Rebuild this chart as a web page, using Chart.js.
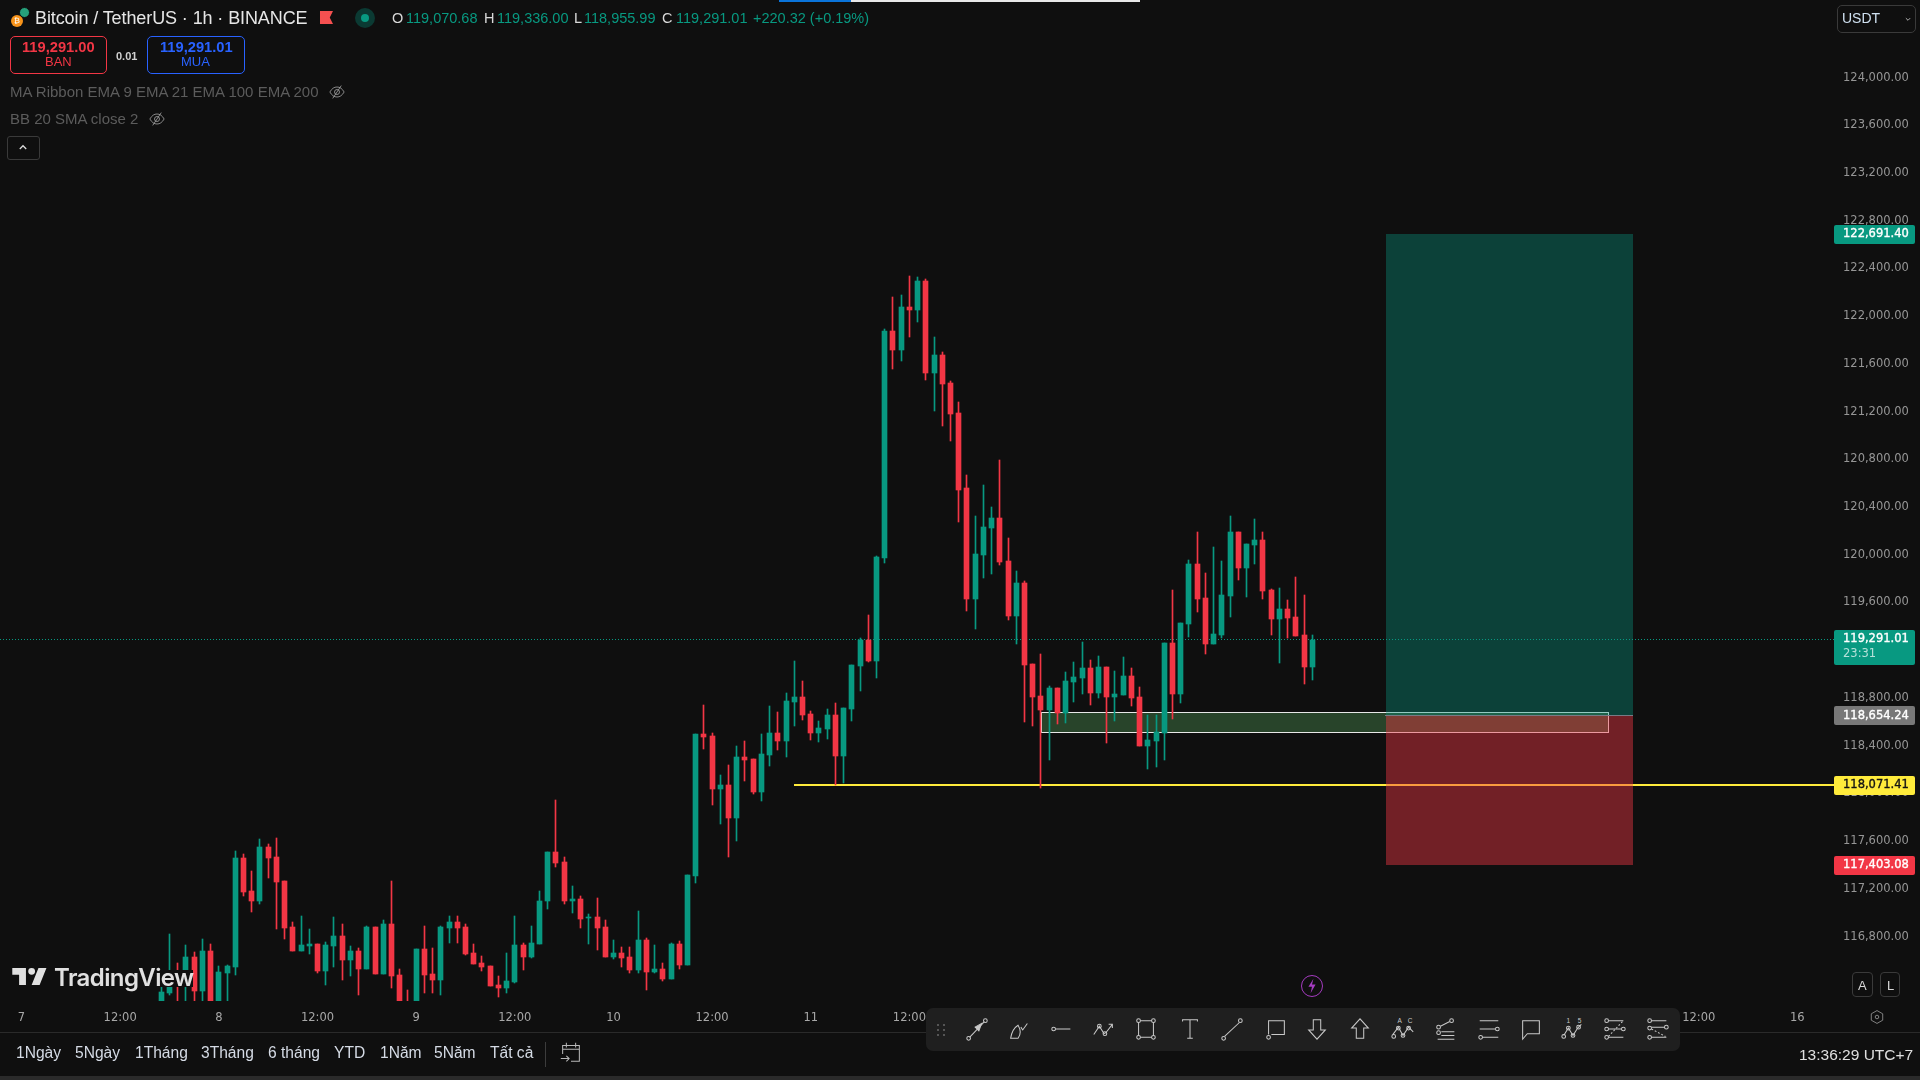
<!DOCTYPE html>
<html>
<head>
<meta charset="utf-8">
<title>BTCUSDT 1h</title>
<script src="https://cdn.jsdelivr.net/npm/chart.js@4/dist/chart.umd.min.js"></script>
<style>
    html, body { margin: 0; padding: 0; background: #0f0f0f; width: 1920px; height: 1080px; overflow: hidden; }
    #wrap { position: relative; width: 1920px; height: 1080px; font-family: "Liberation Sans", Arial, sans-serif; }
    #myChart { position: absolute; left: 0; top: 0; }
    .t { position: absolute; white-space: nowrap; transform: translateY(-50%); line-height: 1; }
    .b { position: absolute; box-sizing: border-box; }
    svg { position: absolute; overflow: visible; }
</style>
</head>
<body>
<div id="wrap"><canvas id="myChart" width="1920" height="1080"></canvas></div>
<script>
// hour 0 = day 7 00:00, first visible candle is hour 17
const firstHour = 17;
const opens = [116190,116329,116511,116500,116632,116346,116682,116220,116497,116548,
    117455,117178,117094,117548,117464,117262,116884,116682,116724,116741,
    116514,116724,116808,116607,116682,116531,116884,116489,116909,116481,
    116210,116070,116699,116489,116439,116876,116926,116884,116665,116581,
    116556,116397,116371,116422,116733,116632,116741,117094,117506,117422,
    117102,117111,116959,116968,116884,116632,116665,116632,116522,116775,
    116506,116531,116447,116741,116564,117304,118497,118480,118035,118069,
    117791,118304,118287,118010,118321,118506,118438,118766,118808,118665,
    118506,118539,118657,118312,118707,119069,119287,119111,119976,121875,
    121715,122077,122051,122295,121522,121673,121438,121186,120556,119631,
    120001,120228,120312,119951,119489,119767,119086,118817,118699,118884,
    118674,118935,118968,119052,118842,119061,118809,118825,118985,118809,
    118397,118439,118506,119262,118834,119422,119926,119641,119254,119330,
    119657,120187,119893,120086,120128,119708,119464,119548,119481,119330,119061];
const highs = [116380,116825,116581,116733,116671,116783,116741,116556,116565,117514,
    117489,117346,117615,117573,117623,117262,116918,116976,116867,116741,
    116758,116968,116909,116724,116707,116892,116884,116943,117262,116531,
    116355,116699,116892,116707,116892,116976,116976,116909,116741,116640,
    116556,116472,116665,116976,116749,116892,117178,117506,117943,117464,
    117228,117144,116993,117127,116943,116775,116716,116716,117018,116791,
    116732,116581,116749,116766,117312,118497,118741,118506,118153,118237,
    118396,118438,118287,118497,118732,118682,118842,119111,118942,118690,
    118606,118707,118758,118716,119077,119304,119497,119993,121892,122161,
    122177,122337,122329,122312,121825,121699,121455,121278,120665,120329,
    120581,120404,120791,120144,119867,119783,119086,119170,118901,118884,
    119019,119103,119271,119120,119153,119061,119027,119145,119052,118893,
    118657,118657,119262,119708,119430,119960,120187,119851,120069,119951,
    120321,120195,120094,120296,120187,119716,119725,119624,119817,119666,119330];
const lows = [116150,116310,116240,116240,116230,116230,116180,116190,116240,116481,
    117136,117002,117077,117287,116867,116783,116682,116682,116657,116497,
    116397,116548,116439,116472,116313,116531,116489,116489,116371,116180,
    116030,116040,116329,116329,116313,116749,116749,116649,116573,116514,
    116388,116296,116329,116413,116523,116623,116741,117035,117380,117077,
    117001,116875,116741,116690,116632,116615,116548,116497,116497,116355,
    116497,116430,116447,116531,116564,117245,118371,117901,117741,117464,
    117598,118102,117993,117934,118228,118363,118304,118564,118615,118447,
    118430,118455,118069,118085,118606,118858,119102,118968,119934,121556,
    121623,121825,121951,121463,121203,121077,120951,120278,119530,119379,
    119808,119841,119917,119455,119253,118599,118565,118044,118279,118582,
    118590,118767,118834,118741,118800,118422,118607,118825,118733,118397,
    118204,118220,118279,118624,118758,119313,119523,119170,119254,119304,
    119481,119792,119649,119926,119632,119330,119094,119304,119321,118918,118951];
const closes = [116338,116511,116472,116632,116346,116682,116220,116506,116556,117455,
    117170,117094,117548,117455,117254,116876,116682,116733,116741,116514,
    116733,116808,116607,116682,116531,116884,116489,116909,116472,116210,
    116060,116699,116481,116439,116884,116926,116876,116657,116573,116548,
    116388,116371,116430,116733,116632,116749,117102,117506,117413,117094,
    117111,116951,116968,116875,116632,116665,116623,116522,116775,116506,
    116531,116447,116741,116564,117312,118497,118472,118035,118069,117791,
    118304,118279,118010,118329,118506,118438,118774,118808,118657,118506,
    118548,118657,118312,118716,119077,119287,119111,119984,121875,121715,
    122077,122051,122295,121522,121673,121430,121178,120547,119631,120010,
    120236,120312,119942,119489,119766,119078,118809,118699,118884,118674,
    118943,118977,119052,118842,119061,118809,118834,118985,118800,118397,
    118447,118514,119262,118834,119430,119926,119632,119254,119338,119666,
    120187,119893,120094,120128,119699,119464,119548,119472,119321,119061,119288];

const yTickValues = [124000,123600,123200,122800,122400,122000,121600,121200,120800,120400,120000,
    119600,119200,118800,118400,118000,117600,117200,116800];
const xTickHours = [0,12,24,36,48,60,72,84,96,108,120,132,144,156,168,180,192,204,216];
const xTickLabels = ['7','12:00','8','12:00','9','12:00','10','12:00','11','12:00','12','12:00','13','12:00','14','12:00','15','12:00','16'];

const lastPrice = 119291.01;
const countdown = '23:31';
const targetPrice = 122691.40;
const entryPrice = 118654.24;
const stopPrice = 117403.08;
const hLinePrice = 118071.41;
const hLineStartHour = 94;
const zoneTop = 118686, zoneBottom = 118514, zoneStartHour = 124, zoneEndHour = 193;
const toolStartHour = 166, toolEndHour = 196;

const rangeNames = ['1Ngày','5Ngày','1Tháng','3Tháng','6 tháng','YTD','1Năm','5Năm','Tất cả'];
const rangeLefts = [16,75,135,201,268,334,380,434,490];

const GREEN = '#089981', RED = '#f23645', YELLOW = '#ffeb3b';
const AXIS_FONT = '11.5px "DejaVu Sans"';

function money(v) {
    return v.toLocaleString('en-US', {minimumFractionDigits: 2, maximumFractionDigits: 2});
}

// snap bars to whole pixels, the chart has hard edges
const snapBars = {
    id: 'snapBars',
    afterDatasetsUpdate(chart) {
        chart.data.datasets.forEach((ds, i) => {
            chart.getDatasetMeta(i).data.forEach(el => {
                el.x = Math.floor(el.x) + 0.5;
                el.y = Math.round(el.y);
                el.base = Math.round(el.base);
            });
        });
    }
};

// drawings under the candles: zone, line, long position, last price line
const drawings = {
    id: 'drawings',
    beforeDatasetsDraw(chart) {
        const ctx = chart.ctx, xs = chart.scales.x, ys = chart.scales.y;
        const right = chart.chartArea.right - 2;
        ctx.save();

        ctx.setLineDash([1, 2]);
        ctx.strokeStyle = GREEN;
        ctx.lineWidth = 1;
        let ly = Math.floor(ys.getPixelForValue(lastPrice)) + 0.5;
        ctx.beginPath(); ctx.moveTo(0, ly); ctx.lineTo(right, ly); ctx.stroke();
        ctx.setLineDash([]);

        let zx = Math.round(xs.getPixelForValue(zoneStartHour));
        let zr = Math.round(xs.getPixelForValue(zoneEndHour));
        let zt = Math.round(ys.getPixelForValue(zoneTop));
        let zb = Math.round(ys.getPixelForValue(zoneBottom));
        ctx.fillStyle = 'rgba(84,160,90,0.37)';
        ctx.fillRect(zx, zt, zr - zx, zb - zt);
        ctx.strokeStyle = '#e8e8e8';
        ctx.strokeRect(zx + 0.5, zt + 0.5, zr - zx, zb - zt);

        ctx.fillStyle = YELLOW;
        let hy = Math.round(ys.getPixelForValue(hLinePrice));
        let hx = Math.round(xs.getPixelForValue(hLineStartHour));
        ctx.fillRect(hx, hy - 1, right - hx, 2);

        let tx = Math.round(xs.getPixelForValue(toolStartHour));
        let tr = Math.round(xs.getPixelForValue(toolEndHour));
        let tt = Math.round(ys.getPixelForValue(targetPrice));
        let te = Math.round(ys.getPixelForValue(entryPrice));
        let ts = Math.round(ys.getPixelForValue(stopPrice));
        ctx.fillStyle = 'rgba(8,153,129,0.37)';
        ctx.fillRect(tx, tt, tr - tx, te - tt);
        ctx.fillStyle = 'rgba(242,54,69,0.44)';
        ctx.fillRect(tx, te, tr - tx, ts - te);
        ctx.fillStyle = '#787b86';
        ctx.fillRect(tx - 1, te, tr - tx + 1, 1);
        ctx.restore();
    },
    afterDraw(chart) {
        const ctx = chart.ctx, ys = chart.scales.y;
        const tag = (price, bg, fg) => {
            let y = ys.getPixelForValue(price);
            ctx.fillStyle = bg;
            ctx.beginPath();
            ctx.roundRect(1834, Math.round(y) - 9, 81, 19, 2);
            ctx.fill();
            ctx.fillStyle = fg;
            ctx.strokeStyle = fg;
            ctx.lineWidth = 0.35;
            ctx.fillText(money(price), 1843, y + 0.5);
            ctx.strokeText(money(price), 1843, y + 0.5);
        };
        ctx.save();
        ctx.font = AXIS_FONT;
        ctx.textBaseline = 'middle';
        ctx.textAlign = 'left';
        tag(targetPrice, GREEN, '#fff');
        tag(entryPrice, '#787878', '#fff');
        tag(hLinePrice, YELLOW, '#131313');
        tag(stopPrice, RED, '#fff');
        // last price has the countdown under it
        let y = Math.round(ys.getPixelForValue(lastPrice));
        ctx.fillStyle = GREEN;
        ctx.beginPath();
        ctx.roundRect(1834, y - 9, 81, 35, 2);
        ctx.fill();
        ctx.fillStyle = '#fff';
        ctx.strokeStyle = '#fff';
        ctx.lineWidth = 0.35;
        ctx.fillText(money(lastPrice), 1843, y);
        ctx.strokeText(money(lastPrice), 1843, y);
        ctx.fillStyle = 'rgba(255,255,255,0.7)';
        ctx.fillText(countdown, 1843, y + 15);
        ctx.restore();
    }
};

const hours = opens.map((v, i) => firstHour + i);
const candleColors = opens.map((v, i) => closes[i] >= v ? GREEN : RED);

new Chart(document.getElementById('myChart').getContext('2d'), {
    type: 'bar',
    data: {
        datasets: [
            {
                label: 'wick',
                data: hours.map((h, i) => ({x: h, y: [lows[i], highs[i]]})),
                backgroundColor: candleColors,
                barThickness: 1,
                grouped: false
            },
            {
                label: 'body',
                data: hours.map((h, i) => ({x: h, y: [opens[i], closes[i]]})),
                backgroundColor: candleColors,
                barThickness: 5,
                minBarLength: 1,
                grouped: false
            }
        ]
    },
    options: {
        responsive: false,
        animation: false,
        devicePixelRatio: 1,
        layout: {padding: {left: 0, right: 0, top: 0, bottom: 48}},
        plugins: {legend: {display: false}, tooltip: {enabled: false}, title: {display: false}},
        scales: {
            x: {
                type: 'linear',
                offset: false,
                min: -2.615,
                max: 220.7,
                grid: {display: false, drawTicks: false},
                border: {display: false},
                afterFit(scale) {
                    scale.height = 31;
                    scale.paddingLeft = 0;
                    scale.paddingRight = 0;
                },
                afterBuildTicks(scale) { scale.ticks = xTickHours.map(v => ({value: v})); },
                ticks: {
                    autoSkip: false,
                    maxRotation: 0,
                    padding: 10,
                    color: '#a8a8a8',
                    font: {family: 'DejaVu Sans', size: 11.5},
                    callback(value) { return xTickLabels[xTickHours.indexOf(value)]; }
                }
            },
            y: {
                position: 'right',
                min: 116260,
                max: 124650,
                grid: {display: false, drawTicks: false},
                border: {display: false},
                afterFit(scale) {
                    scale.width = 84;
                    scale.paddingTop = 0;
                    scale.paddingBottom = 0;
                },
                afterBuildTicks(scale) { scale.ticks = yTickValues.map(v => ({value: v})); },
                ticks: {
                    padding: 7,
                    color: '#969696',
                    font: {family: 'DejaVu Sans', size: 11.5},
                    callback(value) { return money(value); }
                }
            }
        }
    },
    plugins: [snapBars, drawings]
});

// ---- page chrome around the chart ----
const wrap = document.getElementById('wrap');

function text(str, x, y, size, color, extra) {
    let el = document.createElement('div');
    el.className = 't';
    el.textContent = str;
    el.style.cssText = 'left:' + x + 'px;top:' + y + 'px;font-size:' + size + 'px;color:' + color + ';' + (extra || '');
    wrap.appendChild(el);
    return el;
}
function box(x, y, w, h, css) {
    let el = document.createElement('div');
    el.className = 'b';
    el.style.cssText = 'left:' + x + 'px;top:' + y + 'px;width:' + w + 'px;height:' + h + 'px;' + css;
    wrap.appendChild(el);
    return el;
}
function icon(cx, cy, inner, size, stroke) {
    let s = size || 28;
    let holder = document.createElement('div');
    holder.innerHTML = '<svg width="' + s + '" height="' + s + '" viewBox="0 0 28 28" fill="none" stroke="' + (stroke || '#c9c9c9') +
        '" stroke-width="1.1" style="left:' + (cx - s / 2) + 'px;top:' + (cy - s / 2) + 'px">' + inner + '</svg>';
    wrap.appendChild(holder.firstChild);
}

box(779, 0, 72, 2, 'background:#0a74da');
box(851, 0, 289, 2, 'background:#e8e8e8');

// header
box(11, 15, 12, 12, 'background:#f7931a;border-radius:50%');
box(19, 7, 11, 11, 'background:#26a17b;border-radius:50%;border:1px solid #0f0f0f');
text('₿', 14, 21, 8, '#fff');
text('Bitcoin / TetherUS · 1h · BINANCE', 35, 18, 18, '#e6e6e6', 'letter-spacing:-0.1px');
box(320, 11, 13, 13, 'background:#f55050;clip-path:polygon(0 0,100% 0,75% 50%,100% 100%,0 100%)');
box(355, 8, 20, 20, 'background:#0b3a33;border-radius:50%');
box(361, 14, 8, 8, 'background:#089981;border-radius:50%');

text('O', 392, 18, 14.5, '#d8d8d8');
text('119,070.68', 406, 18, 14.5, GREEN);
text('H', 484, 18, 14.5, '#d8d8d8');
text('119,336.00', 497, 18, 14.5, GREEN);
text('L', 574, 18, 14.5, '#d8d8d8');
text('118,955.99', 584, 18, 14.5, GREEN);
text('C', 662, 18, 14.5, '#d8d8d8');
text('119,291.01', 676, 18, 14.5, GREEN);
text('+220.32 (+0.19%)', 753, 18, 14.5, GREEN);

box(10, 36, 97, 38, 'border:1px solid ' + RED + ';border-radius:5px');
text('119,291.00', 22, 47, 14.7, RED, 'font-weight:bold');
text('BAN', 45, 61, 13, RED);
text('0.01', 116, 56, 11, '#d0d0d0', 'font-weight:bold');
box(147, 36, 98, 38, 'border:1px solid #2962ff;border-radius:5px');
text('119,291.01', 160, 47, 14.7, '#2962ff', 'font-weight:bold');
text('MUA', 181, 61, 13, '#2962ff');

text('MA Ribbon EMA 9 EMA 21 EMA 100 EMA 200', 10, 91, 15, '#5c5c5c');
text('BB 20 SMA close 2', 10, 118, 15, '#5c5c5c');
const eye = '<path d="M4 14c3-5 6-7 10-7s7 2 10 7c-3 5-6 7-10 7s-7-2-10-7z"/><circle cx="14" cy="14" r="3.5"/><path d="M20 5L8 23"/>';
icon(337, 92, eye, 20, '#a8a8a8');
icon(157, 119, eye, 20, '#a8a8a8');
box(7, 136, 33, 24, 'border:1px solid #3a3a3a;border-radius:3px');
icon(23, 147, '<path d="M9 17l5-5 5 5" stroke-width="2"/>', 18, '#dcdcdc');

// currency box on the price axis
box(1837, 5, 79, 28, 'border:1px solid #3a3a3a;border-radius:5px');
text('USDT', 1842, 18, 14, '#cfe0f0');
icon(1908, 19, '<path d="M9 12l5 5 5-5" stroke-width="2"/>', 12, '#c9c9c9');

// logo
box(52, 970, 141, 17, 'background:#0f0f0f');
box(13, 970, 36, 17, 'background:#0f0f0f');
let logo = document.createElement('div');
logo.innerHTML = '<svg width="41" height="32" viewBox="0 0 36 28" style="left:10px;top:961px"><path fill="#e0e0e0" d="M14 6H2v6h6v9h6V6zm12 15h-7l6-15h7l-6 15zm-7-9a3 3 0 1 0 0-6 3 3 0 0 0 0 6z"/></svg>';
wrap.appendChild(logo.firstChild);
text('TradingView', 54, 978, 24, '#e0e0e0', 'font-family:Inter,sans-serif;font-weight:600;letter-spacing:-0.6px');

// lightning and A / L buttons
box(1301, 975, 22, 22, 'border:1.5px solid #a53cc0;border-radius:50%');
icon(1312, 986, '<path d="M16 4l-7 11h5l-2 9 7-12h-5z" fill="#a53cc0" stroke="none"/>', 20);
box(1852, 972, 21, 25, 'border:1px solid #3a3a3a;border-radius:4px');
text('A', 1858, 985, 13, '#d8d8d8');
box(1880, 972, 20, 25, 'border:1px solid #3a3a3a;border-radius:4px');
text('L', 1887, 985, 13, '#d8d8d8');
icon(1877, 1017, '<path d="M14 5l8 4.5v9L14 23l-8-4.5v-9z"/><circle cx="14" cy="14" r="2.5"/>', 20, '#a0a0a0');

// footer
box(0, 1032, 1920, 1, 'background:#2a2a2a');
box(0, 1076, 1920, 4, 'background:#2a2a2a');
rangeNames.forEach((n, i) => text(n, rangeLefts[i], 1053, 15.6, '#d5dbe5'));
box(545, 1042, 1, 25, 'background:#3c3c3c');
icon(571, 1053, '<path d="M5 15V6h18v17h-9M5 10h18M9 3v5M19 3v5M3 20h9M9 17l3 3-3 3"/>', 26, '#b8b8b8');
text('13:36:29 UTC+7', 1799, 1055, 15.5, '#e0e0e0');

// drawing toolbar, it sits on top of the time axis
box(926, 1008, 754, 43, 'background:#1f1f1f;border-radius:7px');
[[937, 1024], [943, 1024], [937, 1029], [943, 1029], [937, 1034], [943, 1034]].forEach(p => box(p[0], p[1], 2, 2, 'background:#555'));

const c = (x, y) => '<circle cx="' + x + '" cy="' + y + '" r="2"/>';
const toolIcons = [
    [977, c(5, 24) + c(23, 5) + '<path d="M6 23L22 6"/><path d="M19 8l-7 4 4 4z" fill="#c9c9c9"/>'],
    [1019, '<path d="M5 24h8c3-4 3-9 0-14C8 13 6 18 5 24zM16 12l2 3 5-7"/>'],
    [1062, c(5, 14) + '<path d="M7 14h16"/>'],
    [1104, '<path d="M3 20l6-9 5 8 2-1 7-9M19 9h4v4"/>' + c(9, 11) + c(15, 19)],
    [1146, '<path d="M6 7v14M22 7v14M8 5h12M8 23h12"/>' + c(6, 5) + c(22, 5) + c(6, 23) + c(22, 23)],
    [1190, '<path d="M6 6V4h16v2M14 4v20M11 24h6"/>'],
    [1232, c(5, 24) + c(23, 5) + '<path d="M6 22L22 7"/>'],
    [1276, '<path d="M6 20V5h17v15H9" />' + c(6, 23)],
    [1317, '<path d="M10 4h8v11h5L14 25 5 15h5z"/>'],
    [1360, '<path d="M10 24h8V13h5L14 3 5 13h5z"/>'],
    [1403, '<path d="M3 20l6-8 5 9 6-9 5 5"/>' + c(4, 22) + c(9, 13) + c(14, 21) + c(20, 13) +
        '<text x="8" y="7" font-size="7" fill="#c9c9c9" stroke="none">A</text><text x="19" y="7" font-size="7" fill="#c9c9c9" stroke="none">C</text>'],
    [1446, c(6, 12) + c(20, 5) + '<path d="M8 11l10-5M9 17h14M9 21h14M5 25h18" />' + c(6, 18)],
    [1489, '<path d="M4 5h20M4 14h17M7 23h17"/>' + c(23, 14) + c(5, 23)],
    [1531, '<path d="M5 5h18v14H10l-5 6z"/>'],
    [1573, '<path d="M4 21l5-8 5 8 5-8 4-4"/>' + c(4, 22) + c(9, 13) + c(14, 21) + c(20, 12) +
        '<text x="7" y="7" font-size="7" fill="#c9c9c9" stroke="none">1</text><text x="19" y="7" font-size="7" fill="#c9c9c9" stroke="none">5</text>'],
    [1615, '<path d="M7 5h16M7 14h14M7 23h16"/><path d="M22 6L7 22" stroke-dasharray="2 2"/>' + c(5, 5) + c(5, 14) + c(5, 23) + c(23, 14)],
    [1658, '<path d="M7 5h16M7 12h14M7 23h16"/><path d="M7 14l15 8" stroke-dasharray="2 2"/>' + c(5, 5) + c(5, 13) + c(5, 23) + c(23, 12)]
];
toolIcons.forEach(t => icon(t[0], 1029, t[1], 26));
</script>
</body>
</html>
